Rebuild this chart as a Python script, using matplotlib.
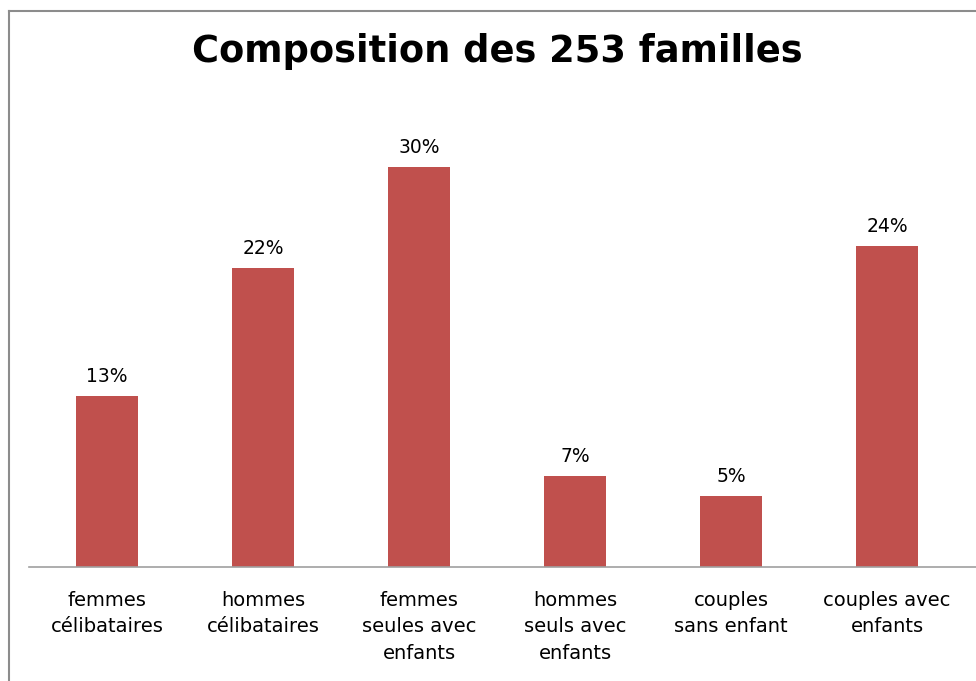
import matplotlib.pyplot as plt
from matplotlib.lines import Line2D

# Family composition (share of the 253 families, in %)
categories = [
    'femmes\ncélibataires',
    'hommes\ncélibataires',
    'femmes\nseules avec\nenfants',
    'hommes\nseuls avec\nenfants',
    'couples\nsans enfant',
    'couples avec\nenfants',
]
shares = [12.8, 22.4, 30.0, 6.8, 5.3, 24.1]
share_labels = ['13%', '22%', '30%', '7%', '5%', '24%']

W, H = 976, 681
fig = plt.figure(figsize=(W / 100, H / 100), dpi=100)

# axes placed in pixel terms: baseline at y=567, 30% at y=167
left, right = 29, 976
base, top30 = 567, 167
step = 156  # px per category
ax = fig.add_axes([left / W, 1 - base / H, (right - left) / W, (base - top30) / H])

x = range(len(categories))
ax.bar(x, shares, width=0.4, color='#C0504D')
ax.set_xlim(-0.5, -0.5 + (right - left) / step)
ax.set_ylim(0, 30)

for i, (v, lab) in enumerate(zip(shares, share_labels)):
    ax.text(i, v + 0.75, lab, ha='center', va='bottom', fontsize=13.5,
            family='DejaVu Sans', clip_on=False)

ax.set_xticks(list(x))
ax.set_xticklabels(categories, fontsize=14, linespacing=1.5, va='top')
ax.tick_params(axis='x', length=0, pad=17)
ax.set_yticks([])
for side in ['left', 'right', 'top']:
    ax.spines[side].set_visible(False)
ax.spines['bottom'].set_color('#A0A0A0')
ax.spines['bottom'].set_linewidth(1.2)

fig.text(497 / W, 1 - 52 / H, 'Composition des 253 familles', ha='center', va='center',
         fontsize=26.5, fontweight='bold', family='DejaVu Sans')

# chart frame (top and left edges visible)
fig.add_artist(Line2D([8.5 / W, 1], [1 - 10.5 / H] * 2, color='#8C8C8C', lw=1.5))
fig.add_artist(Line2D([8.5 / W] * 2, [0, 1 - 10.5 / H], color='#8C8C8C', lw=1.5))

fig.savefig('out.png', dpi=100)
